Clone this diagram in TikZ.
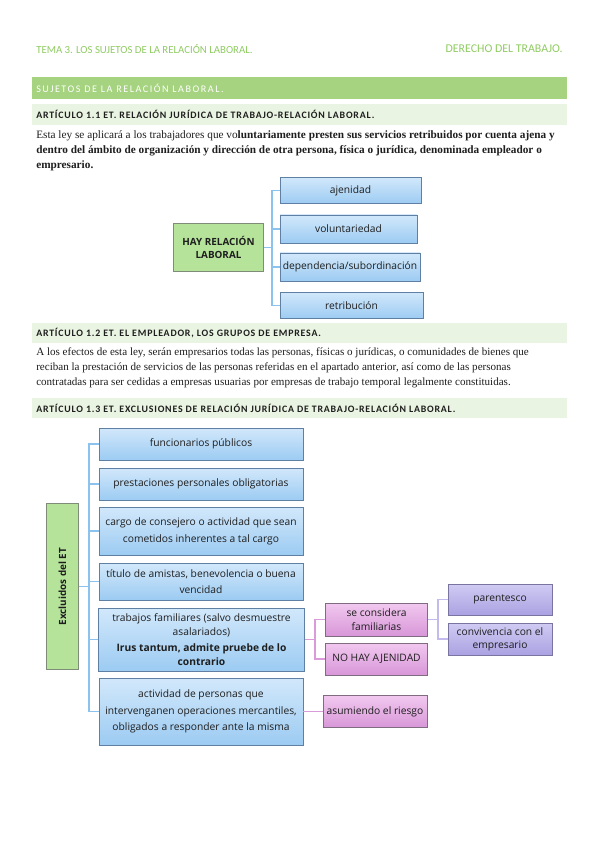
\documentclass[tikz,border=0pt]{standalone}
\usepackage{fontspec}
\setmainfont{Liberation Serif}
\newfontfamily\hdfont{Carlito}
\newfontfamily\barfont[LetterSpace=15]{Carlito}
\newfontfamily\artfont[LetterSpace=8]{Carlito}
\newfontfamily\mapfont{Open Sans}
\usetikzlibrary{positioning}
\definecolor{rlink}{HTML}{1E1E1E}
\definecolor{rlhead}{HTML}{8FCB62}
\definecolor{rlbar}{HTML}{A5D37F}
\definecolor{rlsub}{HTML}{EAF4E2}
\definecolor{rlbluetop}{HTML}{D2E8FB}
\definecolor{rlbluebot}{HTML}{9CCBF2}
\definecolor{rlblueline}{HTML}{5F7FA3}
\definecolor{rlbluelink}{HTML}{8CC3EE}
\definecolor{rlgreenfill}{HTML}{B5E39A}
\definecolor{rlgreenline}{HTML}{7F8C78}
\definecolor{rlpinktop}{HTML}{F1C8EF}
\definecolor{rlpinkbot}{HTML}{D897D8}
\definecolor{rlpinkline}{HTML}{806C80}
\definecolor{rlpinklink}{HTML}{D99BDA}
\definecolor{rlliltop}{HTML}{D0CBF3}
\definecolor{rllilbot}{HTML}{AAA2E2}
\definecolor{rllilline}{HTML}{7A74A0}
\definecolor{rllillink}{HTML}{C4BAEE}
\tikzset{
  rl head/.style={font=\hdfont\fontsize{8.1}{10}\selectfont, text=rlhead, inner sep=0pt},
  rl bar/.style={fill=rlbar, draw=none},
  rl bar text/.style={font=\barfont\fontsize{7.6}{9}\selectfont, text=white, inner sep=0pt, anchor=west},
  rl sub/.style={fill=rlsub, draw=none},
  rl sub text/.style={font=\artfont\bfseries\fontsize{7.4}{9}\selectfont, text=rlink, inner sep=0pt, anchor=west},
  rl para/.style={font=\fontsize{8.45}{11.4}\selectfont, text=rlink, align=left, anchor=north west, inner sep=0pt},
  rl box/.style={line width=0.6pt, align=center, inner sep=1pt,
    font=\mapfont\fontsize{7.7}{12.5}\selectfont, text=rlink},
  rl blue/.style={rl box, draw=rlblueline, top color=rlbluetop, bottom color=rlbluebot},
  rl green/.style={rl box, draw=rlgreenline, fill=rlgreenfill, font=\mapfont\bfseries\fontsize{7.4}{10}\selectfont},
  rl pink/.style={rl box, draw=rlpinkline, top color=rlpinktop, bottom color=rlpinkbot},
  rl lilac/.style={rl box, draw=rllilline, top color=rlliltop, bottom color=rllilbot},
  rl link/.style={draw=#1, line width=1.1pt},
}
\newcommand{\rlbold}{\bfseries\fontsize{7.7}{11}\selectfont}

\begin{document}
\begin{tikzpicture}[x=0.75pt, y=-0.75pt]
  \useasboundingbox (0,0) rectangle (599,848);
  % header
  \node[rl head, anchor=west] (hdl) at (36,49) {TEMA 3. LOS SUJETOS DE LA RELACIÓN LABORAL.};
  \node[rl head, anchor=east, font=\hdfont\fontsize{8.9}{10}\selectfont] (hdr) at (563,49) {DERECHO DEL TRABAJO.};
  \fill[rl bar] (32,77) rectangle (567,99);
  \node[rl bar text] (sec) at (36,88) {SUJETOS DE LA RELACIÓN LABORAL.};
  % articulo 1.1
  \fill[rl sub] (32,104) rectangle (567,125);
  \node[rl sub text] (art1) at (36,114.5) {ARTÍCULO 1.1 ET. RELACIÓN JURÍDICA DE TRABAJO-RELACIÓN LABORAL.};
  \node[rl para] (par1) at (36,130) {Esta ley se aplicará a los trabajadores que vo\textbf{luntariamente presten sus servicios retribuidos por cuenta ajena y}\\
    \textbf{dentro del ámbito de organización y dirección de otra persona, física o jurídica, denominada empleador o}\\
    \textbf{empresario.}};
  \node[rl green, minimum width=68pt, minimum height=36.5pt] (hay) at (218.5,247.5) {HAY RELACIÓN\\LABORAL};
  \node[rl blue, minimum width=105.75pt, minimum height=20pt] (ajen) at (350.5,190.5) {ajenidad};
  \node[rl blue, minimum width=102.75pt, minimum height=21pt] (volu) at (348.5,229) {voluntariedad};
  \node[rl blue, minimum width=105pt, minimum height=21pt] (depe) at (350,267) {dependencia/subordinación};
  \node[rl blue, minimum width=107.25pt, minimum height=20pt] (retr) at (351.5,305.5) {retribución};
  \coordinate (jhay) at (272,247.5);
  \coordinate (jtop) at (272,190.5);
  \coordinate (jbot) at (272,305.5);
  \draw[rl link=rlbluelink] (hay.east) -- (jhay);
  \draw[rl link=rlbluelink] (ajen.west) -- (jtop) -- (jbot) -- (retr.west);
  \draw[rl link=rlbluelink] (volu.west) -| (jhay);
  \draw[rl link=rlbluelink] (depe.west) -| (jhay);
  % articulo 1.2
  \fill[rl sub] (32,323) rectangle (567,343);
  \node[rl sub text] (art2) at (36,333) {ARTÍCULO 1.2 ET. EL EMPLEADOR, LOS GRUPOS DE EMPRESA.};
  \node[rl para, font=\fontsize{8.3}{11.3}\selectfont] (par2) at (36,347) {A los efectos de esta ley, serán empresarios todas las personas, físicas o jurídicas, o comunidades de bienes que\\
    reciban la prestación de servicios de las personas referidas en el apartado anterior, así como de las personas\\
    contratadas para ser cedidas a empresas usuarias por empresas de trabajo temporal legalmente constituidas.};
  % articulo 1.3
  \fill[rl sub] (32,398) rectangle (567,418);
  \node[rl sub text] (art3) at (36,408) {ARTÍCULO 1.3 ET. EXCLUSIONES DE RELACIÓN JURÍDICA DE TRABAJO-RELACIÓN LABORAL.};
  \node[rl green, minimum width=125pt, minimum height=23.5pt, rotate=90] (excl) at (62.5,586.5) {Excluidos del ET};
  \node[rl blue, minimum width=153pt, minimum height=24pt] (fun) at (201,444) {funcionarios públicos};
  \node[rl blue, minimum width=153pt, minimum height=24pt] (pre) at (201,484) {prestaciones personales obligatorias};
  \node[rl blue, minimum width=153pt, minimum height=36pt] (car) at (201,531) {cargo de consejero o actividad que sean\\cometidos inherentes a tal cargo};
  \node[rl blue, minimum width=153pt, minimum height=27.75pt] (tit) at (201,581.5) {título de amistas, benevolencia o buena\\vencidad};
  \node[rl blue, minimum width=154pt, minimum height=47.25pt, font=\mapfont\fontsize{7.7}{10.5}\selectfont] (tra) at (201.5,639.5) {trabajos familiares (salvo desmuestre\\asalariados)\\[1pt]{\rlbold Irus tantum, admite pruebe de lo}\\{\rlbold contrario}};
  \node[rl blue, minimum width=153pt, minimum height=50.25pt] (act) at (201,711.5) {actividad de personas que\\intervenganen operaciones mercantiles,\\obligados a responder ante la misma};
  \coordinate (jexc) at (89,586.5);
  \coordinate (jfun) at (89,444);
  \coordinate (jact) at (89,711.5);
  \draw[rl link=rlbluelink] (excl.south) -- (jexc);
  \draw[rl link=rlbluelink] (fun.west) -- (jfun) -- (jact) -- (act.west);
  \foreach \n in {pre,car,tit,tra} {\draw[rl link=rlbluelink] (\n.west) -| (jexc);}
  % familiares
  \node[rl pink, minimum width=77pt, minimum height=24.75pt, font=\mapfont\fontsize{7.7}{10}\selectfont] (fam) at (376.5,619.5) {se considera\\familiarias};
  \node[rl pink, minimum width=77pt, minimum height=24pt] (noaj) at (376.5,659) {NO HAY AJENIDAD};
  \node[rl pink, minimum width=78pt, minimum height=24pt] (asu) at (375,711.5) {asumiendo el riesgo};
  \coordinate (jtra) at (315,639.5);
  \draw[rl link=rlpinklink] (tra.east) -- (jtra);
  \draw[rl link=rlpinklink] (fam.west) -| (jtra);
  \draw[rl link=rlpinklink] (noaj.west) -| (jtra);
  \draw[rl link=rlpinklink] (act.east) -- (asu.west);
  \node[rl lilac, minimum width=78pt, minimum height=23.25pt] (par) at (500,599.5) {parentesco};
  \node[rl lilac, minimum width=78pt, minimum height=24pt, font=\mapfont\fontsize{7.7}{10}\selectfont] (con) at (500,639) {convivencia con el\\empresario};
  \coordinate (jfam) at (438,619.5);
  \draw[rl link=rllillink] (fam.east) -- (jfam);
  \draw[rl link=rllillink] (par.west) -| (jfam);
  \draw[rl link=rllillink] (con.west) -| (jfam);
\end{tikzpicture}
\end{document}
